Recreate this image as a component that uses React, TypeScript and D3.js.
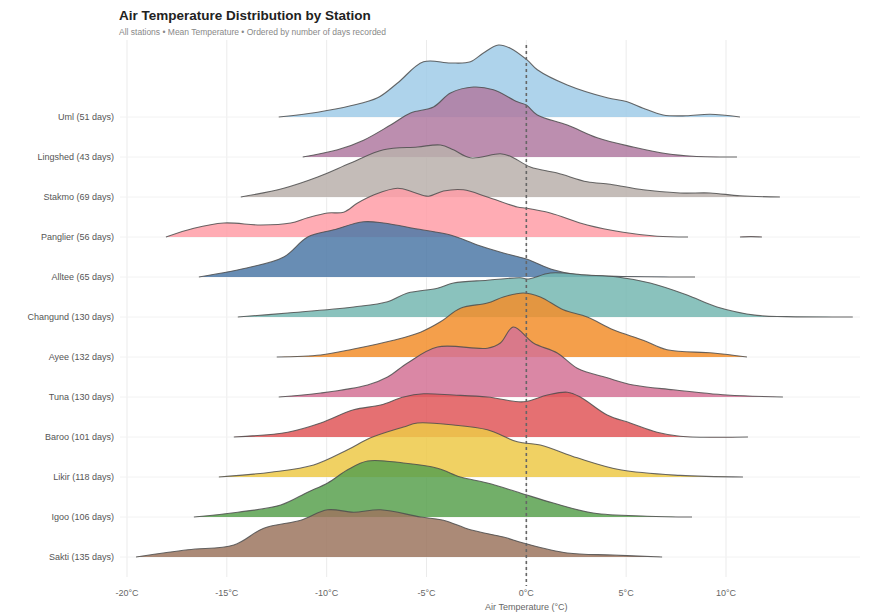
import React from "react";
import * as d3 from "d3";

const stations = ["Uml", "Lingshed", "Stakmo", "Panglier", "Alltee", "Changund", "Ayee", "Tuna", "Baroo", "Likir", "Igoo", "Sakti"];
const daysRecorded = [51, 43, 69, 56, 65, 130, 132, 130, 101, 118, 106, 135];
const xTicks = [-20, -15, -10, -5, 0, 5, 10];

// [temperature °C, scaled density]
const umlCurve = [[-12.4,0],[-10.45,0.12],[-8.8,0.28],[-7.45,0.48],[-6.45,0.85],[-5.15,1.38],[-3.8,1.35],[-2.8,1.38],[-2.15,1.6],[-1.4,1.8],[-0.8,1.72],[0.05,1.42],[0.55,1.18],[2.05,0.8],[4.05,0.48],[5.05,0.38],[5.85,0.22],[6.85,0.05],[8.0,0.03],[9.2,0.07],[10.7,0]];
const lingshedCurve = [[-11.2,0],[-9.45,0.18],[-8.15,0.42],[-6.8,0.8],[-5.8,1.1],[-4.65,1.25],[-3.8,1.6],[-2.65,1.75],[-1.65,1.68],[-0.45,1.38],[0,1.3],[0.55,1.05],[2.05,0.8],[3.55,0.48],[5.35,0.25],[7.05,0.08],[8.35,0.02],[10.55,0]];
const stakmoCurve = [[-14.3,0],[-12.15,0.22],[-10.45,0.5],[-8.8,0.85],[-7.15,1.18],[-5.45,1.25],[-4.3,1.3],[-3.65,1.18],[-2.8,0.98],[-1.3,1.08],[-0.8,1.02],[0.2,0.75],[1.55,0.6],[3.05,0.38],[4.2,0.32],[5.85,0.18],[7.7,0.1],[9.2,0.1],[10.7,0.03],[12.7,0]];
const panglierCurve = [[-18.05,0],[-16.65,0.22],[-15.15,0.35],[-13.3,0.3],[-11.8,0.35],[-10.95,0.48],[-9.95,0.6],[-9.15,0.62],[-8.45,0.85],[-7.65,1.05],[-6.45,1.22],[-5.65,1.12],[-4.9,1.02],[-4.15,1.15],[-3.15,1.18],[-1.95,1.0],[-0.45,0.75],[0,0.72],[1.2,0.6],[3.05,0.3],[4.85,0.12],[6.55,0.02],[8.1,0]];
const panglierTail = [[10.7,0],[11.25,0.01],[11.8,0]];
const allteeCurve = [[-16.4,0],[-13.8,0.25],[-12.15,0.5],[-10.95,1.0],[-9.65,1.18],[-8.15,1.38],[-7.15,1.35],[-5.45,1.2],[-3.8,1.05],[-2.45,0.8],[-1.15,0.6],[0,0.45],[1.35,0.18],[2.5,0.06],[4.5,0.02],[8.45,0]];
const changundCurve = [[-14.45,0],[-11.95,0.1],[-8.65,0.25],[-6.95,0.38],[-5.95,0.6],[-4.45,0.72],[-3.65,0.85],[-1.95,0.92],[-0.3,0.98],[0.1,0.95],[1.2,1.1],[3,1.05],[4.55,1.0],[6.2,0.85],[8.05,0.55],[9.55,0.25],[11.55,0.04],[13,0.01],[16.35,0]];
const ayeeCurve = [[-12.5,0],[-10.3,0.05],[-8.65,0.2],[-6.65,0.42],[-5.3,0.62],[-4.3,0.88],[-3.3,1.22],[-1.95,1.35],[-1.15,1.5],[-0.15,1.6],[0.7,1.5],[1.85,1.18],[3.05,1.0],[4.35,0.68],[5.85,0.42],[7.05,0.18],[9.35,0.1],[11.05,0]];
const tunaCurve = [[-12.4,0],[-10.3,0.1],[-7.95,0.3],[-6.95,0.5],[-5.95,0.85],[-4.45,1.25],[-1.95,1.22],[-1.3,1.35],[-0.65,1.75],[0.35,1.35],[1.55,1.1],[2.55,0.72],[4.05,0.48],[5.35,0.3],[7.35,0.18],[10.05,0.05],[12.85,0]];
const barooCurve = [[-14.65,0],[-11.95,0.12],[-10.3,0.35],[-8.65,0.68],[-7.3,0.8],[-6.15,1.0],[-5.15,1.08],[-3.65,1.05],[-1.95,1.0],[-0.15,0.88],[1.05,1.05],[2.05,1.12],[2.7,1.0],[4.05,0.55],[5.2,0.35],[6.55,0.12],[7.7,0.02],[11.1,0]];
const likirCurve = [[-15.4,0],[-12.8,0.12],[-10.65,0.3],[-8.95,0.68],[-7.8,0.98],[-6.15,1.25],[-5.45,1.35],[-3.65,1.3],[-1.95,1.18],[-0.45,0.88],[0.7,0.8],[2.55,0.48],[4.7,0.18],[7.7,0.04],[10.85,0]];
const igooCurve = [[-16.65,0],[-14.45,0.12],[-12.3,0.3],[-10.95,0.62],[-9.95,0.85],[-8.95,1.18],[-7.95,1.4],[-6.15,1.35],[-4.45,1.22],[-3.3,1.0],[-1.95,0.85],[-0.3,0.6],[1.35,0.35],[3.35,0.1],[6.05,0.02],[8.3,0]];
const saktiCurve = [[-19.55,0],[-16.95,0.18],[-14.65,0.3],[-13.15,0.72],[-11.3,0.92],[-9.95,1.18],[-8.65,1.12],[-7.3,1.18],[-5.3,1.0],[-4.15,0.92],[-2.8,0.68],[-1.15,0.5],[-0.15,0.35],[2.05,0.1],[4.35,0.05],[6.8,0]];

const curves = [[umlCurve],[lingshedCurve],[stakmoCurve],[panglierCurve, panglierTail],[allteeCurve],[changundCurve],[ayeeCurve],[tunaCurve],[barooCurve],[likirCurve],[igooCurve],[saktiCurve]];
const palette = ["#a0cbe8","#b07aa1","#bab0ac","#ff9da7","#4e79a7","#76b7b2","#f28e2b","#d37295","#e15759","#edc948","#59a14f","#9c755f"];

const W = 891, H = 614;
const FONT = "'Liberation Sans', Arial, sans-serif";

export default function App() {
  const x = d3.scaleLinear().domain([-20, 10]).range([127, 726]);
  const y = d3.scalePoint<string>().domain(stations).range([117, 557]);
  const step = 40;
  const yv = (base: number, v: number) => Math.min(base, base - v * step);
  const area = (base: number) => d3.area<number[]>().x(d => x(d[0])).y0(base).y1(d => yv(base, d[1])).curve(d3.curveCatmullRom.alpha(0.5));
  const line = (base: number) => d3.line<number[]>().x(d => x(d[0])).y(d => yv(base, d[1])).curve(d3.curveCatmullRom.alpha(0.5));

  return (
    <svg width={W} height={H} style={{ position: "absolute", left: 0, top: 0, background: "#fff" }} fontFamily={FONT}>
      <rect width={W} height={H} fill="#fff" />
      {xTicks.map(t => (
        <line key={"g" + t} x1={x(t)} x2={x(t)} y1={40} y2={577} stroke="#ebebeb" strokeWidth={1} />
      ))}
      {stations.map((s) => (
        <line key={"h" + s} x1={120} x2={860} y1={y(s)!} y2={y(s)!} stroke="#f2f2f2" strokeWidth={1} />
      ))}
      {stations.map((s, i) => {
        const base = y(s)!;
        return (
          <g key={s}>
            {curves[i].map((c, j) => (
              <g key={j}>
                <path d={area(base)(c) || ""} fill={palette[i]} fillOpacity={0.85} />
                <path d={line(base)(c) || ""} fill="none" stroke="#4d4d4d" strokeWidth={1.1} strokeOpacity={0.85} />
              </g>
            ))}
          </g>
        );
      })}
      <line x1={x(0)} x2={x(0)} y1={45} y2={586} stroke="#666" strokeWidth={1.6} strokeDasharray="3,3" />
      {stations.map((s, i) => (
        <text key={"l" + s} x={114} y={y(s)!} dy="0.35em" textAnchor="end" fontSize={9} fill="#555">
          {`${s} (${daysRecorded[i]} days)`}
        </text>
      ))}
      {xTicks.map(t => (
        <text key={"t" + t} x={x(t)} y={596} textAnchor="middle" fontSize={9} fill="#666">{`${t}°C`}</text>
      ))}
      <text x={x(0)} y={610} textAnchor="middle" fontSize={9} fill="#666">Air Temperature (°C)</text>
      <text x={119} y={20} fontSize={13.5} fontWeight="bold" fill="#222">Air Temperature Distribution by Station</text>
      <text x={119} y={35} fontSize={8.5} fill="#888">All stations • Mean Temperature • Ordered by number of days recorded</text>
    </svg>
  );
}
